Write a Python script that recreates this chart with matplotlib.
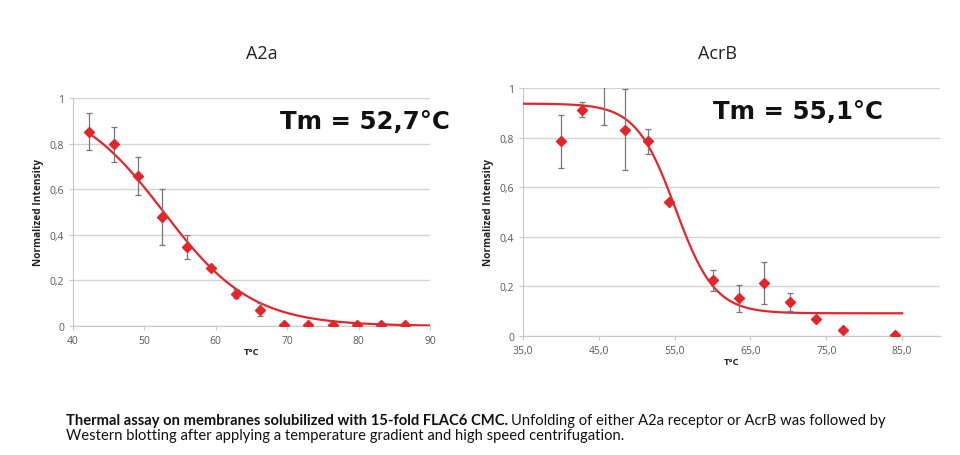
import numpy as np
import matplotlib
matplotlib.use("Agg")
import matplotlib.pyplot as plt

plt.rcParams['font.family'] = ['Open Sans', 'DejaVu Sans']

# ---- Data: A2a ----
a2a_t = [42.2, 45.7, 49.1, 52.5, 55.9, 59.3, 62.8, 66.2, 69.6, 72.9, 76.4, 79.7, 83.1, 86.5]
a2a_y = [0.853, 0.797, 0.658, 0.477, 0.346, 0.253, 0.142, 0.072, 0.005, 0.005, 0.005, 0.005, 0.005, 0.005]
a2a_err = [0.083, 0.077, 0.085, 0.122, 0.054, 0.0, 0.020, 0.027, 0, 0, 0, 0, 0, 0]
a2a_tm = 52.7
a2a_slope = 6.17
a2a_top, a2a_bottom = 1.0, 0.0

# ---- Data: AcrB ----
acrb_t = [40.0, 42.8, 45.7, 48.5, 51.45, 54.2, 60.1, 63.5, 66.75, 70.26, 73.7, 77.2, 84.0]
acrb_y = [0.785, 0.913, 1.04, 0.832, 0.785, 0.542, 0.225, 0.152, 0.215, 0.137, 0.067, 0.024, 0.004]
acrb_err = [0.108, 0.031, 0.19, 0.163, 0.050, 0.0, 0.042, 0.054, 0.085, 0.037, 0, 0, 0]
acrb_tm = 55.1
acrb_slope = 2.6
acrb_top, acrb_bottom = 0.937, 0.0915

RED = '#e3262b'
GRID = '#d4d4d4'
TICK = '#595959'

fig = plt.figure(figsize=(9.6, 4.56), dpi=100)


def boltz(x, top, bottom, tm, s):
    return bottom + (top - bottom) / (1 + np.exp((x - tm) / s))


def style(ax):
    ax.set_facecolor('white')
    ax.grid(axis='y', color=GRID, linewidth=1.0)
    ax.set_axisbelow(True)
    for sp in ['top', 'right']:
        ax.spines[sp].set_visible(False)
    ax.spines['left'].set_color('#c8c8c8')
    ax.spines['bottom'].set_color('#c8c8c8')
    ax.tick_params(axis='both', colors='#c8c8c8', labelcolor=TICK, labelsize=7.5, length=3, width=0.8)
    ax.set_ylabel('Normalized Intensity', fontsize=7.3, fontweight='bold', color='#222222', labelpad=4)


# Left chart
ax1 = fig.add_axes([0.076, 0.2829, 0.372, 0.5])
style(ax1)
ax1.set_xlim(40, 90)
ax1.set_ylim(0, 1)
ax1.set_xticks([40, 50, 60, 70, 80, 90])
ax1.set_yticks([0, 0.2, 0.4, 0.6, 0.8, 1.0])
ax1.set_yticklabels(['0', '0,2', '0,4', '0,6', '0,8', '1'])
xs = np.linspace(a2a_t[0], 90, 300)
ax1.plot(xs, boltz(xs, a2a_top, a2a_bottom, a2a_tm, a2a_slope), color=RED, linewidth=1.6, zorder=3)
ax1.errorbar(a2a_t, a2a_y, yerr=a2a_err, fmt='none', ecolor='#777777', elinewidth=0.9, capsize=2.5, capthick=0.9, zorder=4)
ax1.plot(a2a_t, a2a_y, linestyle='none', marker='D', markersize=5.5, color=RED, zorder=5)
ax1.set_xlabel('T°C', fontsize=6.8, fontweight='bold', color='#222222', labelpad=1)

# Right chart
ax2 = fig.add_axes([0.5448, 0.261, 0.4344, 0.5439])
style(ax2)
ax2.set_xlim(35, 90)
ax2.set_ylim(0, 1)
ax2.set_xticks([35, 45, 55, 65, 75, 85])
ax2.set_xticklabels(['35,0', '45,0', '55,0', '65,0', '75,0', '85,0'])
ax2.set_yticks([0, 0.2, 0.4, 0.6, 0.8, 1.0])
ax2.set_yticklabels(['0', '0,2', '0,4', '0,6', '0,8', '1'])
xs2 = np.linspace(35, 85, 300)
ax2.plot(xs2, boltz(xs2, acrb_top, acrb_bottom, acrb_tm, acrb_slope), color=RED, linewidth=1.6, zorder=3)
ax2.errorbar(acrb_t, acrb_y, yerr=acrb_err, fmt='none', ecolor='#777777', elinewidth=0.9, capsize=2.5, capthick=0.9, zorder=4)
ax2.plot(acrb_t, acrb_y, linestyle='none', marker='D', markersize=5.5, color=RED, zorder=5)
ax2.set_xlabel('T°C', fontsize=6.8, fontweight='bold', color='#222222', labelpad=1)

# Tm annotations
tm_font = ['DejaVu Sans']
fig.text(280 / 960, 1 - 122 / 456, 'Tm = 52,7°C', ha='left', va='center',
         fontsize=17.6, fontweight='bold', family=tm_font, color='#111111')
fig.text(713 / 960, 1 - 112 / 456, 'Tm = 55,1°C', ha='left', va='center',
         fontsize=17.6, fontweight='bold', family=tm_font, color='#111111')

# Titles
fig.text(262 / 960, 1 - 54 / 456, 'A2a', ha='center', va='center', fontsize=13, color='#222222')
fig.text(718 / 960, 1 - 54 / 456, 'AcrB', ha='center', va='center', fontsize=13, color='#222222')

# Caption
cap_font = ['Lato', 'DejaVu Sans']
cap_size = 10.6
bold_txt = fig.text(66 / 960, 1 - 421 / 456, 'Thermal assay on membranes solubilized with 15-fold FLAC6 CMC.',
                    ha='left', va='center', fontsize=cap_size, fontweight='bold', family=cap_font, color='#111111')
fig.canvas.draw()
bb = bold_txt.get_window_extent()
fig.text((bb.x1 + 3) / 960, 1 - 421 / 456, 'Unfolding of either A2a receptor or AcrB was followed by',
         ha='left', va='center', fontsize=cap_size, family=cap_font, color='#111111')
fig.text(66 / 960, 1 - 436 / 456, 'Western blotting after applying a temperature gradient and high speed centrifugation.',
         ha='left', va='center', fontsize=cap_size, family=cap_font, color='#111111')

fig.savefig('out.png', dpi=100, facecolor='white')
